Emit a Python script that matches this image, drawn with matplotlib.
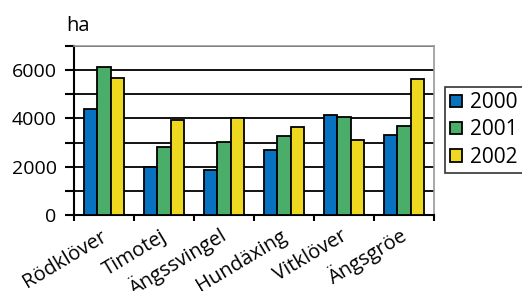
import matplotlib
matplotlib.use("Agg")
import matplotlib.pyplot as plt
import numpy as np

categories = ["Rödklöver", "Timotej", "Ängssvingel", "Hundäxing", "Vitklöver", "Ängsgröe"]
years = ["2000", "2001", "2002"]
v2000 = [4400, 1990, 1860, 2690, 4140, 3310]
v2001 = [6120, 2810, 3020, 3270, 4050, 3680]
v2002 = [5670, 3930, 4010, 3640, 3100, 5630]
colors = ["#0872c0", "#4aae6a", "#efd820"]

plt.rcParams['font.family'] = ['Open Sans', 'DejaVu Sans']

fig = plt.figure(figsize=(5.22, 2.91), dpi=100)
ax = fig.add_axes([74/522, 1-215/291, 360/522, 169/291])

x = np.arange(len(categories))
w = 0.222
for i, (vals, c, lab) in enumerate(zip([v2000, v2001, v2002], colors, years)):
    ax.bar(x + (i-1)*w, vals, width=w, color=c, edgecolor="black", linewidth=1.3, label=lab, zorder=3)

ax.set_xlim(-0.5, len(categories)-0.5)
ax.set_ylim(0, 7000)
ax.set_yticks([0, 2000, 4000, 6000])
ax.set_yticks([1000, 3000, 5000, 7000], minor=True)
ax.yaxis.grid(True, which='both', color='black', linewidth=1.3, zorder=0)
ax.tick_params(axis='y', which='both', direction='out', length=6.5, width=1.5, labelsize=14, pad=6)
ax.set_xticks(np.arange(len(categories)+1) - 0.5)
ax.set_xticklabels([])
ax.tick_params(axis='x', which='major', direction='out', length=4, width=1.5)
for xi, cat in zip(x, categories):
    ax.text(xi + 0.06, -1000, cat, rotation=31, ha='right', va='baseline', fontsize=14.5,
            rotation_mode='anchor', transform=ax.transData)

for s in ['left', 'bottom']:
    ax.spines[s].set_linewidth(1.5)
    ax.spines[s].set_color('black')
for s in ['top', 'right']:
    ax.spines[s].set_linewidth(1.2)
    ax.spines[s].set_color('#999999')

fig.text(66/522, 1-31/291, "ha", fontsize=14.5, va='baseline', ha='left')

leg = fig.legend(loc='upper left', bbox_to_anchor=(445/522, 1-87/291), fontsize=15,
                 frameon=True, fancybox=False, edgecolor='black', handlelength=0.55,
                 handleheight=0.55, handletextpad=0.4, borderpad=0.25, labelspacing=0.3,
                 borderaxespad=0)
leg.get_frame().set_linewidth(1.2)

fig.savefig("out.png", dpi=100)
